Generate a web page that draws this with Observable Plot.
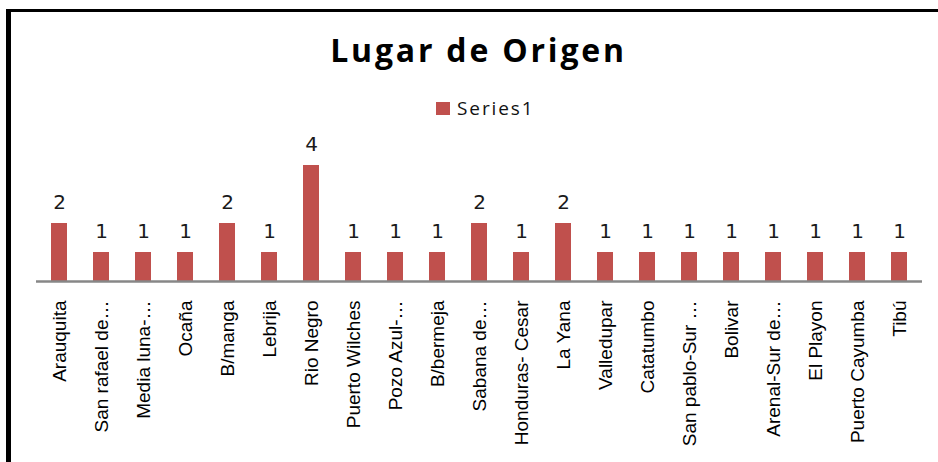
<!DOCTYPE html>
<html>
<head>
<meta charset="utf-8">
<script src="https://cdn.jsdelivr.net/npm/d3@7"></script>
<script src="https://cdn.jsdelivr.net/npm/@observablehq/plot@0.6"></script>
<style>
  html, body { margin: 0; padding: 0; background: #fff; }
  #wrap { position: relative; width: 938px; height: 462px; overflow: hidden; background: #fff; }
  #chart { position: absolute; left: 0; top: 0; }
  .ov { position: absolute; z-index: 2; }
  #title { left: 0; width: 957px; top: 30px; text-align: center; font-family: "Open Sans", sans-serif; font-weight: 700; font-size: 32px; letter-spacing: 2.8px; line-height: 40px; color: #000; white-space: nowrap; }
  #legend { left: 436px; top: 96px; height: 24px; display: flex; align-items: center; font-family: "Open Sans", sans-serif; font-size: 19px; letter-spacing: 1.9px; color: #111; }
  #legend .sw { width: 14px; height: 13px; background: #C0504D; margin-right: 7px; }
  #bl { left: 6px; top: 9px; width: 5px; height: 460px; background: #000; }
  #bt { left: 6px; top: 9px; width: 940px; height: 3px; background: #000; }
</style>
</head>
<body>
<div id="wrap">
  <div id="chart"></div>
  <div class="ov" id="title">Lugar de Origen</div>
  <div class="ov" id="legend"><div class="sw"></div><span>Series1</span></div>
  <div class="ov" id="bl"></div>
  <div class="ov" id="bt"></div>
</div>
<script>
const categories = [
  "Arauquita", "San rafael de…", "Media luna-…", "Ocaña", "B/manga", "Lebrija",
  "Rio Negro", "Puerto Wilches", "Pozo Azul-…", "B/bermeja", "Sabana de…",
  "Honduras- Cesar", "La Yana", "Valledupar", "Catatumbo", "San pablo-Sur …",
  "Bolivar", "Arenal-Sur de…", "El Playon", "Puerto Cayumba", "Tibú"
];
const series1 = [2, 1, 1, 1, 2, 1, 4, 1, 1, 1, 2, 1, 2, 1, 1, 1, 1, 1, 1, 1, 1];
const seriesName = "Series1";

const data = categories.map((c, i) => ({ cat: c, value: series1[i], series: seriesName }));

const chart = Plot.plot({
  width: 938,
  height: 462,
  marginLeft: 36,
  marginRight: 16,
  marginTop: 165,
  marginBottom: 181,
  style: { fontFamily: "Liberation Sans, Arial, sans-serif", fontSize: "19px", color: "#000", background: "transparent" },
  x: { domain: categories, paddingInner: 0.62, paddingOuter: 0.31, label: null },
  y: { domain: [0, 4], axis: null },
  marks: [
    Plot.barY(data, { x: "cat", y: "value", fill: "#C0504D" }),
    Plot.ruleY([0], { stroke: "#878787", strokeWidth: 2.5 }),
    Plot.text(data, {
      x: "cat", y: "value", text: d => String(d.value), dy: -21,
      fontFamily: "DejaVu Sans, sans-serif", fontSize: 20, fill: "#1a1a1a"
    }),
    Plot.axisX({ tickRotate: -90, tickSize: 0, tickPadding: 19, label: null, fill: "#000", fontSize: 19, fontFamily: "Liberation Sans, Arial, sans-serif" })
  ]
});
document.getElementById("chart").appendChild(chart);
</script>
</body>
</html>
